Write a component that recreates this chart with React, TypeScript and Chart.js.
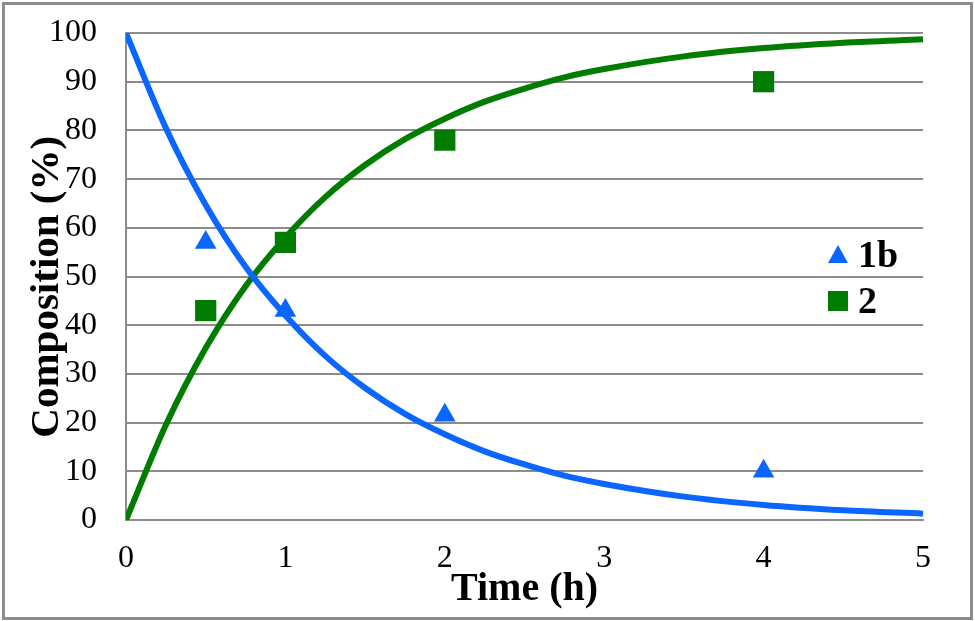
import React, { useEffect, useRef } from 'react';
import { Chart, registerables } from 'chart.js';

Chart.register(...registerables);

// measured points
const sampleTimes = [0.5, 1, 2, 4];
const values1b = [57, 43, 21.5, 10];
const values2 = [43, 57, 78, 90];

// fitted curves
const curveTimes = [0, 0.25, 0.5, 0.75, 1, 1.25, 1.5, 1.75, 2, 2.25, 2.5, 2.75, 3, 3.5, 4, 4.5, 5];
const curve1b = [100, 80.5, 64.7, 52, 42, 33.7, 27.1, 21.8, 17.6, 14.1, 11.4, 9.1, 7.4, 4.8, 3.1, 2, 1.3];
const curve2 = [0, 19.5, 35.3, 48, 58, 66.3, 72.9, 78.2, 82.4, 85.9, 88.6, 90.9, 92.6, 95.2, 96.9, 98, 98.7];

const seriesNames = ['1b', '2'];
const xTitle = 'Time (h)';
// trailing nbsp pushes the rotated title a little lower, like the original
const yTitle = 'Composition (%)\u00a0\u00a0';

const BLUE = '#0a66ff';
const GREEN = '#007d00';
const GRID = '#8c8c8c';
const FONT = '"Liberation Serif", "Times New Roman", serif';

const toXY = (xs: number[], ys: number[]) => xs.map((x, i) => ({ x, y: ys[i] }));

// frame round the whole picture
const framePlugin = {
  id: 'frame',
  afterDraw(chart: Chart) {
    const { ctx, width, height } = chart;
    ctx.save();
    ctx.strokeStyle = GRID;
    ctx.lineWidth = 3;
    ctx.strokeRect(3.5, 3.5, width - 7, height - 6);
    ctx.restore();
  },
};

// legend sits inside the plot, right side
const legendPlugin = {
  id: 'insideLegend',
  afterDatasetsDraw(chart: Chart) {
    const { ctx, chartArea } = chart;
    const mx = chartArea.right - 85;
    const tx = chartArea.right - 65;
    const rows = [
      { label: seriesNames[0], color: BLUE, shape: 'triangle', y: chartArea.top + 222 },
      { label: seriesNames[1], color: GREEN, shape: 'rect', y: chartArea.top + 268 },
    ];
    ctx.save();
    ctx.font = `bold 38px ${FONT}`;
    ctx.textBaseline = 'middle';
    ctx.textAlign = 'left';
    rows.forEach((r) => {
      ctx.fillStyle = r.color;
      ctx.beginPath();
      if (r.shape === 'triangle') {
        ctx.moveTo(mx, r.y - 10);
        ctx.lineTo(mx + 10, r.y + 8);
        ctx.lineTo(mx - 10, r.y + 8);
        ctx.closePath();
      } else {
        ctx.rect(mx - 10, r.y - 10, 20, 20);
      }
      ctx.fill();
      ctx.fillStyle = '#000';
      ctx.fillText(r.label, tx, r.y + 2);
    });
    ctx.restore();
  },
};

const App: React.FC = () => {
  const canvasRef = useRef<HTMLCanvasElement | null>(null);
  const chartRef = useRef<Chart | null>(null);

  useEffect(() => {
    document.body.style.margin = '0';
    const canvas = canvasRef.current;
    if (!canvas) return;
    if (chartRef.current) chartRef.current.destroy();

    chartRef.current = new Chart(canvas, {
      type: 'scatter',
      data: {
        datasets: [
          {
            label: 'fit 1b',
            data: toXY(curveTimes, curve1b),
            showLine: true,
            borderColor: BLUE,
            borderWidth: 6,
            pointRadius: 0,
            cubicInterpolationMode: 'monotone',
          },
          {
            label: 'fit 2',
            data: toXY(curveTimes, curve2),
            showLine: true,
            borderColor: GREEN,
            borderWidth: 6,
            pointRadius: 0,
            cubicInterpolationMode: 'monotone',
          },
          {
            label: seriesNames[0],
            data: toXY(sampleTimes, values1b),
            pointStyle: 'triangle',
            pointRadius: 12.5,
            backgroundColor: BLUE,
            borderColor: BLUE,
            borderWidth: 0,
          },
          {
            label: seriesNames[1],
            data: toXY(sampleTimes, values2),
            pointStyle: 'rect',
            pointRadius: 15,
            backgroundColor: GREEN,
            borderColor: GREEN,
            borderWidth: 0,
          },
        ],
      },
      options: {
        responsive: true,
        maintainAspectRatio: false,
        animation: false,
        layout: { padding: { left: 0, right: 52, top: 33, bottom: 0 } },
        plugins: {
          legend: { display: false },
          tooltip: { enabled: false },
        },
        scales: {
          x: {
            type: 'linear',
            min: 0,
            max: 5,
            ticks: {
              stepSize: 1,
              padding: 19,
              color: '#000',
              font: { family: FONT, size: 32 },
            },
            grid: { display: false, drawTicks: false },
            border: { display: true, color: GRID, width: 2 },
            title: {
              display: true,
              text: xTitle,
              color: '#000',
              font: { family: FONT, size: 40, weight: 'bold', lineHeight: 1 },
              padding: { top: 0, bottom: 11 },
            },
            afterFit: (scale: any) => {
              scale.height = 101;
            },
          },
          y: {
            min: 0,
            max: 100,
            ticks: {
              stepSize: 10,
              padding: 29,
              color: '#000',
              font: { family: FONT, size: 32 },
            },
            grid: { color: GRID, lineWidth: 2, drawTicks: false },
            border: { display: true, color: GRID, width: 2 },
            title: {
              display: true,
              text: yTitle,
              color: '#000',
              font: { family: FONT, size: 41, weight: 'bold', lineHeight: 1 },
              padding: { top: 27, bottom: 0 },
            },
            afterFit: (scale: any) => {
              scale.width = 126;
              scale.paddingTop = 0;
              scale.paddingBottom = 0;
            },
          },
        },
      },
      plugins: [framePlugin, legendPlugin],
    });

    return () => {
      if (chartRef.current) {
        chartRef.current.destroy();
        chartRef.current = null;
      }
    };
  }, []);

  return (
    <div style={{ width: 975, height: 621, position: 'relative', background: '#fff' }}>
      <canvas ref={canvasRef} />
    </div>
  );
};

export default App;
